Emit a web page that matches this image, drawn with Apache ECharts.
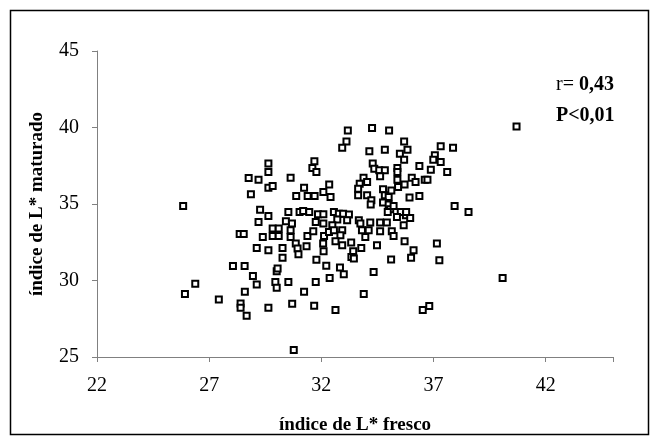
<!DOCTYPE html>
<html><head><meta charset="utf-8">
<script src="https://cdn.jsdelivr.net/npm/echarts@6/dist/echarts.min.js"></script>
<style>html,body{margin:0;padding:0;background:#fff}#c{width:655px;height:440px}</style>
</head><body><div id="c"></div>
<script>
const xTicks = [22, 27, 32, 37, 42];
const yTicks = [25, 30, 35, 40, 45];
const freshL = [28.76,29.20,28.86,25.84,29.27,29.20,28.36,28.54,29.12,28.06,28.58,28.95,29.12,26.38,25.92,28.59,27.43,28.40,28.40,28.67,
29.64,29.64,31.69,31.60,31.78,30.63,29.64,29.83,30.88,31.23,31.39,31.70,32.09,32.35,32.41,29.64,30.53,30.42,30.69,31.03,31.19,31.46,31.85,32.09,31.75,32.09,
29.83,30.10,29.83,30.10,29.39,30.63,30.63,31.38,31.64,32.12,29.64,30.27,30.27,30.86,30.94,30.98,31.34,32.08,32.10,31.78,32.22,32.37,30.01,30.05,29.95,30.01,30.53,31.75,31.23,29.64,30.70,31.68,30.77,
33.18,34.26,35.02,33.12,32.93,34.14,34.83,35.50,34.29,34.36,34.58,34.83,34.62,33.88,34.04,33.71,33.64,33.64,34.04,34.23,34.20,34.75,34.83,35.12,35.42,35.71,35.00,34.75,35.00,35.07,34.96,35.54,35.37,35.77,
32.56,32.78,32.97,33.23,32.71,32.49,33.15,33.67,33.74,34.18,34.62,34.92,32.34,32.56,32.93,32.85,33.81,33.96,34.11,34.62,35.14,35.22,
32.63,32.93,33.33,34.48,33.42,33.78,33.34,33.45,35.11,32.83,33.00,34.33,33.89,32.63,
35.69,35.84,35.69,35.39,35.39,35.39,37.32,37.87,37.06,36.99,37.32,36.37,36.88,37.61,36.03,36.20,36.61,36.73,35.93,36.37,35.22,35.78,35.96,35.67,37.94,38.56,
35.71,36.11,36.00,37.15,37.26,36.52,36.81,40.70,40.08];
const maturedL = [36.70,36.59,35.63,34.87,34.63,33.83,33.04,33.04,32.13,30.94,30.94,30.30,29.74,29.78,29.11,29.26,28.76,28.50,28.22,27.69,
37.64,37.09,37.79,37.35,37.09,36.72,36.07,36.17,35.52,36.07,35.52,35.52,35.78,36.28,35.46,34.22,34.48,33.87,33.72,34.48,34.54,34.48,34.33,34.33,33.83,33.72,
33.40,33.40,32.91,32.91,32.85,33.28,32.85,32.91,33.22,32.91,31.98,32.13,31.48,32.42,32.09,31.72,32.24,32.42,31.91,31.35,30.96,30.17,30.61,30.79,29.91,29.52,29.91,29.91,29.26,28.22,28.48,28.35,25.46,
39.81,39.96,39.81,39.09,38.68,38.44,38.55,38.29,37.64,37.31,37.20,37.20,36.81,36.72,36.44,36.33,36.00,35.57,35.57,35.24,34.96,35.96,35.57,35.89,36.11,36.27,35.46,35.09,34.96,34.65,34.48,34.48,34.15,34.26,
34.48,34.37,34.37,34.31,33.98,33.61,33.94,33.94,33.72,33.79,33.79,33.79,33.17,33.28,33.28,32.96,33.28,32.85,33.28,33.22,33.22,32.91,
32.57,32.31,32.48,32.31,31.91,32.13,31.54,31.44,31.37,30.85,30.41,30.56,29.11,28.07,
39.09,38.55,37.90,37.35,37.09,36.59,38.78,38.68,38.18,37.90,37.74,37.48,37.24,37.09,36.72,36.44,36.59,36.59,35.42,35.52,34.87,34.48,34.09,33.61,34.87,34.48,
32.57,31.98,31.48,32.42,31.33,28.07,28.33,40.07,30.17];
const xTitle = 'índice de L* fresco';
const yTitle = 'índice de L* maturado';
const rLabel = 'r= ', rValue = '0,43', pLabel = 'P<0,01';

const points = freshL.map((x, i) => [x, maturedL[i]]);
const FONT = '"Liberation Serif","Times New Roman",serif';
const chart = echarts.init(document.getElementById('c'), null, {renderer: 'canvas'});
chart.setOption({
  animation: false,
  backgroundColor: '#fff',
  grid: {left: 97, right: 42, top: 51, bottom: 83, containLabel: false},
  xAxis: {
    type: 'value', min: 22, max: 45, interval: 5,
    axisLine: {show: true, lineStyle: {color: '#808080', width: 1}},
    axisTick: {show: true, length: 5, lineStyle: {color: '#808080'}},
    splitLine: {show: false},
    axisLabel: {fontFamily: FONT, fontSize: 20, color: '#000', margin: 19,
      formatter: v => xTicks.includes(v) ? String(v) : ''},
    name: xTitle, nameLocation: 'middle', nameGap: 59,
    nameTextStyle: {fontFamily: FONT, fontSize: 19, fontWeight: 'bold', color: '#000'}
  },
  yAxis: {
    type: 'value', min: 25, max: 45, interval: 5,
    axisLine: {show: true, lineStyle: {color: '#808080', width: 1}},
    axisTick: {show: true, length: 5, lineStyle: {color: '#808080'}},
    splitLine: {show: false},
    axisLabel: {fontFamily: FONT, fontSize: 20, color: '#000', margin: 18,
      formatter: v => yTicks.includes(v) ? String(v) : ''},
    name: yTitle, nameLocation: 'middle', nameGap: 50,
    nameTextStyle: {fontFamily: FONT, fontSize: 19, fontWeight: 'bold', color: '#000'}
  },
  series: [{
    type: 'scatter', data: points, symbol: 'rect', symbolSize: 6,
    itemStyle: {color: '#fff', borderColor: '#000', borderWidth: 2, opacity: 1}
  }],
  graphic: [
    {type: 'rect', left: 8, top: 8, shape: {width: 638, height: 424},
      style: {fill: 'none', stroke: '#000', lineWidth: 1.5}, silent: true},
    {type: 'text', left: 556, top: 75, style: {
      text: '{n|' + rLabel + '}{b|' + rValue + '}',
      rich: {n: {fontFamily: FONT, fontSize: 20, fill: '#000'},
             b: {fontFamily: FONT, fontSize: 20, fontWeight: 'bold', fill: '#000'}}}},
    {type: 'text', left: 556, top: 106, style: {
      text: pLabel, fontFamily: FONT, fontSize: 20, fontWeight: 'bold', fill: '#000'}}
  ]
});
</script></body></html>
